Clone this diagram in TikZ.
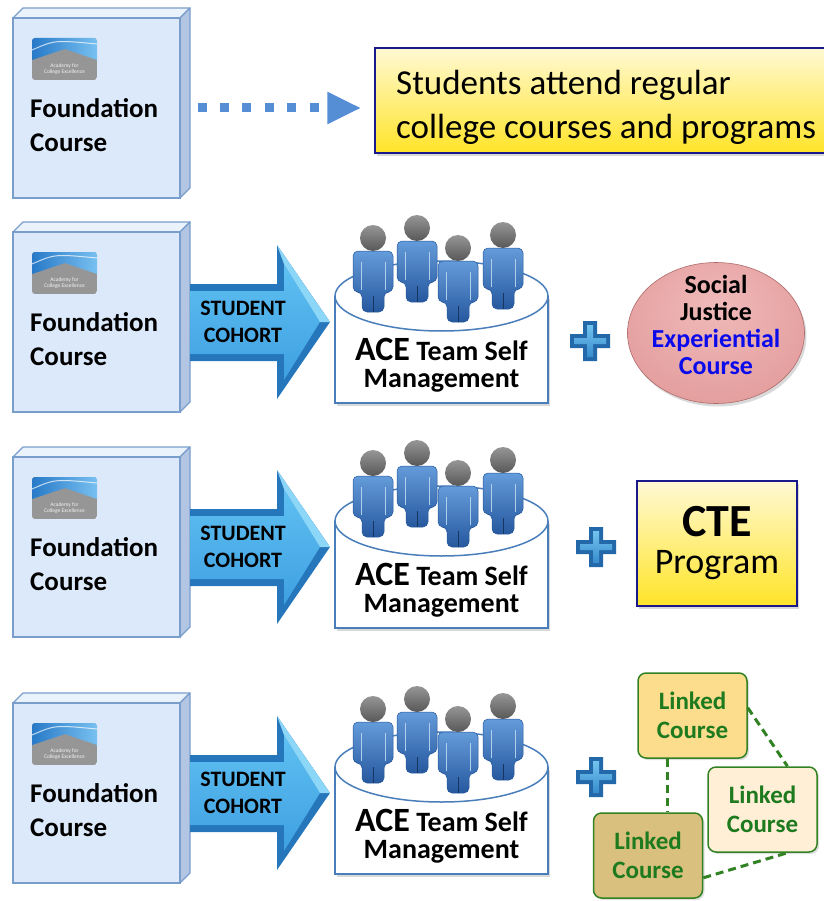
\documentclass[tikz,border=0pt]{standalone}
\usepackage{fontspec}
\setmainfont{Carlito}
\usepackage{tikz}
\usepackage{xcolor}
\usetikzlibrary{arrows.meta,shadows,shapes.geometric}

\definecolor{boxfront}{RGB}{220,233,250}
\definecolor{boxtop}{RGB}{234,242,252}
\definecolor{boxside}{RGB}{178,198,228}
\definecolor{boxline}{RGB}{122,158,204}
\definecolor{logogray}{RGB}{150,150,150}
\definecolor{logoblue}{RGB}{40,122,200}
\definecolor{logosky}{RGB}{120,192,240}
\definecolor{dotblue}{RGB}{85,142,213}
\definecolor{navy}{RGB}{25,25,140}
\definecolor{noteA}{RGB}{255,249,212}
\definecolor{noteB}{RGB}{255,228,40}
\definecolor{arrowdark}{RGB}{38,118,188}
\definecolor{arrowmid}{RGB}{62,160,225}
\definecolor{arrowlight}{RGB}{95,192,242}
\definecolor{arrowpale}{RGB}{140,215,248}
\definecolor{teamblue}{RGB}{74,126,187}
\definecolor{personA}{RGB}{100,155,218}
\definecolor{personB}{RGB}{38,88,158}
\definecolor{headA}{RGB}{150,150,150}
\definecolor{headB}{RGB}{88,88,88}
\definecolor{plusdark}{RGB}{35,105,170}
\definecolor{plusblue}{RGB}{55,140,205}
\definecolor{pluslight}{RGB}{115,195,238}
\definecolor{pinkA}{RGB}{240,186,186}
\definecolor{pinkB}{RGB}{228,158,158}
\definecolor{pinkC}{RGB}{205,125,125}
\definecolor{expblue}{RGB}{10,10,235}
\definecolor{linkline}{RGB}{50,130,35}
\definecolor{linktext}{RGB}{30,122,30}
\definecolor{linkA}{RGB}{252,221,142}
\definecolor{linkB}{RGB}{255,239,214}
\definecolor{linkC}{RGB}{218,192,126}

\pgfdeclareradialshading{pinkball}{\pgfpoint{0bp}{10bp}}{color(0bp)=(pinkA); color(30bp)=(pinkB); color(48bp)=(pinkC); color(60bp)=(pinkC)}

\newcommand{\drawperson}[2]{%
  \shade[top color=personA, bottom color=personB, draw=personB, line width=0.5pt, rounded corners=5pt]
    (#1-20,#2+54) -- (#1-20,#2+13) -- (#1+20,#2+13) -- (#1+20,#2+54) -- (#1+11,#2+54)
    -- (#1+11,#2+74) -- (#1-11,#2+74) -- (#1-11,#2+54) -- cycle;
  \draw[personA!50!white, line width=0.6pt] (#1-12,#2+24) -- (#1-12,#2+52) (#1+12,#2+24) -- (#1+12,#2+52);
  \draw[personB!60!black, line width=0.8pt] (#1,#2+58) -- (#1,#2+74);
  \shade[top color=headA, bottom color=headB] (#1,#2) circle [radius=13pt];
}

\begin{document}
\begin{tikzpicture}[x=1pt, y=-1pt,
  shadowed/.style={drop shadow={opacity=0.3, shadow xshift=2pt, shadow yshift=-3pt}},
  face/.style={draw=boxline, line width=1.2pt, line join=round},
  fbox/.style={draw=boxline, fill=boxfront, line width=1.2pt, minimum width=167pt, minimum height=180pt, inner sep=0pt},
  ftext/.style={font=\fontsize{27}{34}\selectfont\bfseries, align=left, anchor=west, inner sep=0pt},
  logotext/.style={font=\fontsize{5.5}{6}\selectfont, text=white!90!gray, align=center, inner sep=0pt},
  dotarrow/.style={dotblue, line width=9pt, dash pattern=on 9pt off 13.4pt, -{Triangle[length=34pt, width=30pt]}},
  notebox/.style={draw=navy, line width=1.5pt, top color=noteA, bottom color=noteB, minimum width=451pt, minimum height=105pt, shadowed},
  notetext/.style={align=left, font=\fontsize{35}{44}\selectfont, inner sep=0pt},
  cohorttext/.style={font=\fontsize{22}{27}\selectfont\bfseries, align=center, inner sep=0pt},
  teamline/.style={draw=teamblue, line width=1.5pt},
  teamtext/.style={font=\fontsize{28}{27}\selectfont\bfseries, align=center, inner sep=0pt},
  socialball/.style={ellipse, minimum width=177pt, minimum height=141pt, inner sep=0pt, shading=pinkball, draw=pinkC!85!black, line width=0.6pt, shadowed},
  socialtext/.style={font=\fontsize{26}{27}\selectfont\bfseries, align=center, inner sep=0pt},
  ctebox/.style={draw=navy, line width=2pt, top color=noteA, bottom color=noteB, minimum width=160pt, minimum height=125pt, inner sep=0pt, align=center, font=\fontsize{36}{37}\selectfont, shadowed},
  linkbox/.style={draw=linkline, line width=1.5pt, rounded corners=8pt, minimum width=109pt, minimum height=85pt, inner sep=0pt, align=center, text=linktext, font=\fontsize{25}{29}\selectfont\bfseries, drop shadow={opacity=0.25, shadow xshift=2pt, shadow yshift=-2pt}},
  linkdash/.style={linkline, line width=3pt, dash pattern=on 8pt off 5pt}
]
\useasboundingbox (0,0) rectangle (823,901);

\def \rows {18, 232, 457, 703}

% foundation courses
\foreach \rowy [count=\s] in \rows
{
  \filldraw[face, fill=boxtop] (13,\rowy) -- (23,\rowy-10) -- (190,\rowy-10) -- (180,\rowy) -- cycle;
  \filldraw[face, fill=boxside] (180,\rowy) -- (190,\rowy-10) -- (190,\rowy+170) -- (180,\rowy+180) -- cycle;
  \node[fbox] (fc\s) at (96.5,\rowy+90) {};
  \begin{scope}
    \clip[rounded corners=3pt] (32,\rowy+20) rectangle (97,\rowy+62);
    \fill[logogray] (32,\rowy+20) rectangle (97,\rowy+62);
    \shade[left color=logoblue, right color=logosky] (32,\rowy+20) -- (97,\rowy+20) -- (97,\rowy+42) -- (65,\rowy+31) -- (32,\rowy+42) -- cycle;
    \draw[white, opacity=0.7, line width=1pt] (32,\rowy+32) .. controls (55,\rowy+22) .. (97,\rowy+26);
  \end{scope}
  \node[logotext] (logo\s) at (64.5,\rowy+51) {Academy for\\College Excellence};
  \node[ftext] (ft\s) at (30,\rowy+107) {Foundation\\Course};
}

\node[notebox] (note) at (600.5,100.5) {};
\node[notetext, anchor=west] (notetext) at (396,107) {Students attend regular\\college courses and programs};
\draw[dotarrow, shorten <=17pt, shorten >=13pt] (fc1.east) -- (fc1.east -| note.west);

% cohort arrows and teams
\foreach \rowy [count=\s from 2] in {232, 457, 703}
{
  \fill[arrowdark] (190,\rowy+52) -- (277,\rowy+52) -- (277,\rowy+13) -- (330,\rowy+90) -- (277,\rowy+167) -- (277,\rowy+129) -- (190,\rowy+129) -- cycle;
  \shade[top color=arrowlight, bottom color=arrowmid] (190,\rowy+59) -- (284,\rowy+59) -- (284,\rowy+32) -- (320,\rowy+90) -- (284,\rowy+148) -- (284,\rowy+122) -- (190,\rowy+122) -- cycle;
  \fill[arrowpale] (277,\rowy+13) -- (330,\rowy+90) -- (320,\rowy+90) -- (284,\rowy+32) -- cycle;
  \node[cohorttext] (co\s) at (243,\rowy+90) {STUDENT\\COHORT};
  \fill[white, shadowed] (335,\rowy+64) rectangle (548,\rowy+171);
  \draw[teamline] (335,\rowy+64) |- (548,\rowy+171) -- (548,\rowy+64);
  \filldraw[teamline, fill=white] (441.5,\rowy+64) ellipse [x radius=106.5pt, y radius=35pt];
  \foreach \hx/\hy in {373/6, 417/-4, 503/3, 458/16}
  {
    \pgfmathsetmacro\py{\rowy+\hy}
    \drawperson{\hx}{\py}
  }
  \node[teamtext] (team\s) at (441.5,\rowy+133) {{\fontsize{34}{27}\selectfont ACE} Team Self\\Management};
}

% plus signs
\foreach \cx/\cy in {590/341, 596/547, 596/777}
{
  \fill[plusdark] (\cx-7,\cy-20) -- (\cx+7,\cy-20) -- (\cx+7,\cy-7) -- (\cx+20,\cy-7) -- (\cx+20,\cy+7) -- (\cx+7,\cy+7) -- (\cx+7,\cy+20) -- (\cx-7,\cy+20) -- (\cx-7,\cy+7) -- (\cx-20,\cy+7) -- (\cx-20,\cy-7) -- (\cx-7,\cy-7) -- cycle;
  \shade[top color=pluslight, bottom color=plusblue] (\cx-3,\cy-16) -- (\cx+3,\cy-16) -- (\cx+3,\cy-3) -- (\cx+16,\cy-3) -- (\cx+16,\cy+3) -- (\cx+3,\cy+3) -- (\cx+3,\cy+16) -- (\cx-3,\cy+16) -- (\cx-3,\cy+3) -- (\cx-16,\cy+3) -- (\cx-16,\cy-3) -- (\cx-3,\cy-3) -- cycle;
}

\node[socialball] (social) at (716,333) {};
\node[socialtext] (socialtext) at (716,325) {Social\\Justice\\\textcolor{expblue}{Experiential}\\\textcolor{expblue}{Course}};

\node[ctebox] (cte) at (717,543.5) {{\fontsize{46}{37}\selectfont\bfseries CTE}\\Program};

\node[linkbox, fill=linkA] (lc1) at (692.5,715.5) {Linked\\Course};
\node[linkbox, fill=linkB] (lc2) at (762.5,809.5) {Linked\\Course};
\node[linkbox, fill=linkC] (lc3) at (648,855.5) {Linked\\Course};
\draw[linkdash] (lc1.240) -- (lc1.240 |- lc3.north);
\draw[linkdash] (lc1.8) -- (lc2.60);
\draw[linkdash] (lc3.338) -- (lc2.300);
\end{tikzpicture}
\end{document}
